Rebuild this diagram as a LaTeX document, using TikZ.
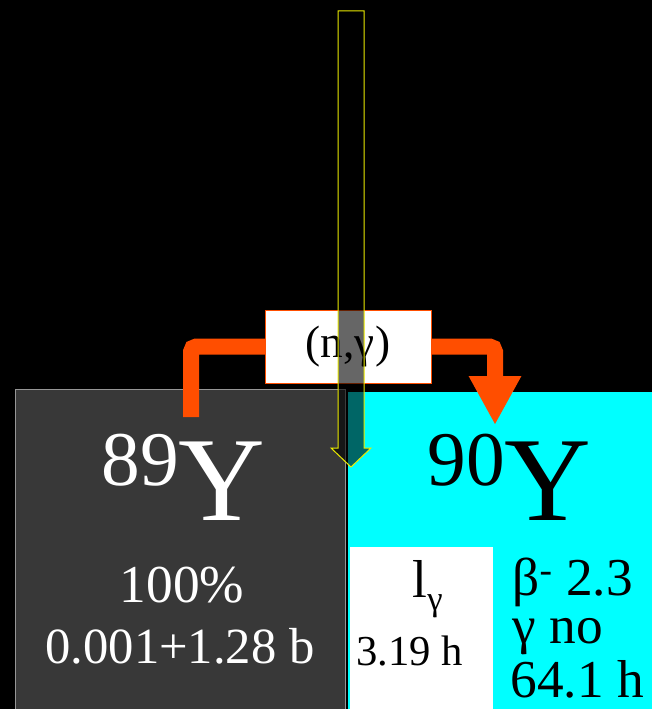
\documentclass[tikz,border=0pt]{standalone}
\usepackage{fontspec}
\setmainfont{Liberation Serif}
\usetikzlibrary{arrows.meta}

\definecolor{boxgray}{RGB}{56,56,56}
\definecolor{rimgray}{RGB}{150,150,150}
\definecolor{capcyan}{RGB}{0,255,255}
\definecolor{reactorange}{RGB}{255,78,0}
\definecolor{beamyellow}{RGB}{235,235,0}

\tikzset{every picture/.style={line width=0.75pt}}
\tikzset{
  isobox/.style={anchor=north west, inner sep=0pt, outer sep=0pt},
  reactline/.style={draw=reactorange, line width=12pt, rounded corners=4pt},
  bigtxt/.style={inner sep=0pt, font=\fontsize{40}{40}\selectfont}
}

\begin{document}
\begin{tikzpicture}[x=0.75pt,y=0.75pt,yscale=-1,xscale=1]
%background
\fill [black] (0,0) rectangle (652,709) ;
\useasboundingbox (0,0) rectangle (652,709) ;

%Shape: Rectangle [89Y]
\node [isobox, fill=boxgray, draw=rimgray, minimum width=247.5pt, minimum height=240pt] (y89) at (15,389) {};
%Shape: Rectangle [90Y]
\node [isobox, fill=capcyan, minimum width=228pt, minimum height=237.75pt] (y90) at (348,392) {};
%Shape: Rectangle [isomer]
\node [isobox, fill=white, minimum width=107.25pt, minimum height=121.5pt] (iso) at (350,547) {};

% Text Node
\node [anchor=base west, inner sep=0pt, text=white] (t89) at (101,520) {\fontsize{58}{58}\selectfont\raisebox{26pt}{89}\fontsize{90}{90}\selectfont Y};
% Text Node
\node [anchor=base west, inner sep=0pt] (t90) at (427,520) {\fontsize{58}{58}\selectfont\raisebox{26pt}{90}\fontsize{90}{90}\selectfont Y};
% Text Node
\node [bigtxt, anchor=base, text=white] (abund) at (182,602) {100\%};
% Text Node
\node [inner sep=0pt, font=\fontsize{38}{38}\selectfont, anchor=base, text=white] (sigma) at (180,663) {0.001+1.28 b};
% Text Node
\node [anchor=base west, inner sep=0pt, font=\fontsize{40}{40}\selectfont] (lgam) at (412,597) {l\raisebox{-10pt}{\fontsize{26}{26}\selectfont γ}};
% Text Node
\node [anchor=base west, inner sep=0pt, font=\fontsize{32}{32}\selectfont] (thalf) at (356,665) {3.19 h};
% Text Node
\node [bigtxt, anchor=base west] (beta) at (512,595) {β\textsuperscript{-} 2.3};
% Text Node
\node [bigtxt, anchor=base west] (gamno) at (512,643) {γ no};
% Text Node
\node [bigtxt, anchor=base west] (half) at (510,697) {64.1 h};

%Shape: Rectangle [reaction label]
\node [isobox, fill=white, draw=reactorange, minimum width=124.5pt, minimum height=54.75pt] (lab) at (265,310) {};
\node [font=\fontsize{34}{34}\selectfont, inner sep=0pt] (labtxt) at (lab.center) {(n,γ)};

%Connector: capture
\coordinate (src) at (191,417) ;
\coordinate (dst) at (495,425) ;
\draw [reactline] (src) |- (lab.west) ;
\draw [reactline, -{Triangle[length=36.75pt, width=36.75pt]}] (lab.east) -| (dst) ;

%Shape: Down Arrow [neutron beam]
\draw [draw=beamyellow, fill=black, fill opacity=0.6] (338,11) -- (364,11) -- (364,448) -- (371,448) -- (351,467) -- (331,448) -- (338,448) -- cycle ;
\end{tikzpicture}
\end{document}
